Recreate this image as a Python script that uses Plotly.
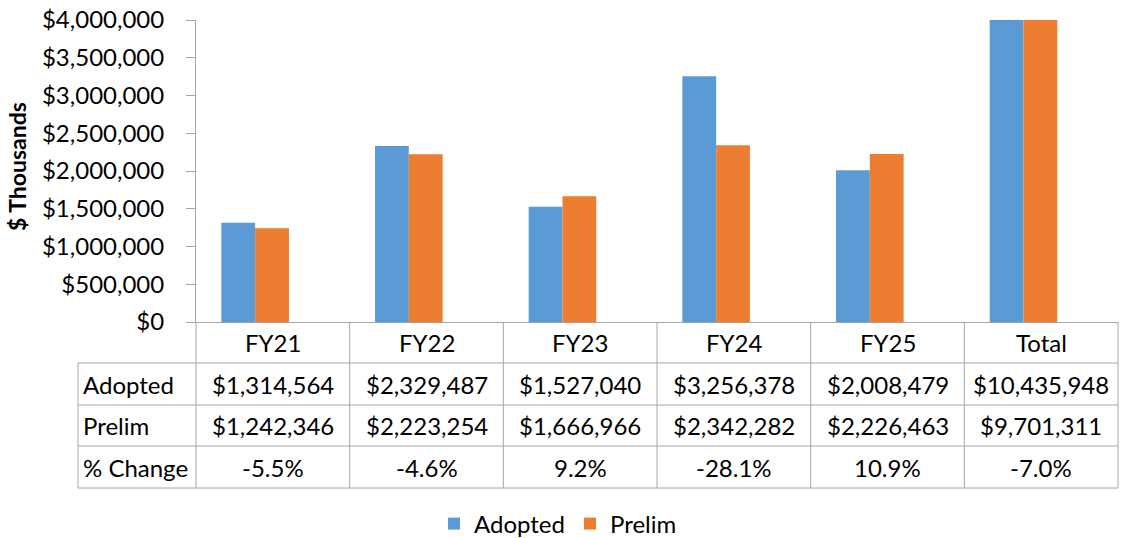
import plotly.graph_objects as go

categories = ["FY21", "FY22", "FY23", "FY24", "FY25", "Total"]
adopted = [1314564, 2329487, 1527040, 3256378, 2008479, 10435948]
prelim = [1242346, 2223254, 1666966, 2342282, 2226463, 9701311]
pct_change = ["-5.5%", "-4.6%", "9.2%", "-28.1%", "10.9%", "-7.0%"]
row_labels = ["Adopted", "Prelim", "% Change"]
y_ticks = [0, 500000, 1000000, 1500000, 2000000, 2500000, 3000000, 3500000, 4000000]

BLUE = "#5B9BD5"
ORANGE = "#ED7D31"
GRID = "#A6A6A6"
FONT = "Lato"

W, H = 1123, 538
L, R, T, B = 196, 1118, 20, 322


def px(x):
    return (x - L) / (R - L)


def py(y):
    return (B - y) / (B - T)


def money(v):
    return "${:,}".format(v)


fig = go.Figure()
fig.add_trace(go.Bar(x=categories, y=adopted, name="Adopted", marker_color=BLUE,
                     width=0.22, offset=-0.335, marker_line_width=0))
fig.add_trace(go.Bar(x=categories, y=prelim, name="Prelim", marker_color=ORANGE,
                     width=0.22, offset=-0.115, marker_line_width=0))

shapes = []
n = len(categories)
col_w = 1.0 / n
row_y = [363, 405, 446, 488]
for yy in row_y:
    shapes.append(dict(type="line", xref="paper", yref="paper", x0=px(78), x1=1,
                       y0=py(yy), y1=py(yy), line=dict(color=GRID, width=1)))
for i in range(n + 1):
    xx = i * col_w
    shapes.append(dict(type="line", xref="paper", yref="paper", x0=xx, x1=xx,
                       y0=py(B), y1=py(488), line=dict(color=GRID, width=1)))
shapes.append(dict(type="line", xref="paper", yref="paper", x0=px(78), x1=px(78),
                   y0=py(363), y1=py(488), line=dict(color=GRID, width=1)))

annotations = []
fsz = 24
centers_y = [342.5, 384, 425.5, 467]


def cell(x, y, text, xanchor="center"):
    annotations.append(dict(x=x, y=y, xref="paper", yref="paper", text=text,
                            showarrow=False, xanchor=xanchor, yanchor="middle",
                            font=dict(size=fsz, color="black", family=FONT)))


for i, c in enumerate(categories):
    xc = (i + 0.5) * col_w
    cell(xc, py(centers_y[0]), c)
    cell(xc, py(centers_y[1]), money(adopted[i]))
    cell(xc, py(centers_y[2]), money(prelim[i]))
    cell(xc, py(centers_y[3]), pct_change[i])
for j, lab in enumerate(row_labels):
    cell(px(81), py(centers_y[j + 1]), lab, xanchor="left")

annotations.append(dict(x=px(17), y=py(167), xref="paper", yref="paper",
                        text="<b>$ Thousands</b>", showarrow=False, textangle=-90,
                        xanchor="center", yanchor="middle",
                        font=dict(size=23, color="black", family=FONT)))

fig.update_layout(
    width=W, height=H,
    margin=dict(l=L, r=W - R, t=T, b=H - B, pad=0, autoexpand=False),
    plot_bgcolor="white", paper_bgcolor="white",
    barmode="group",
    showlegend=True,
    legend=dict(orientation="h", x=px(434), xanchor="left", y=py(524), yanchor="middle",
                font=dict(size=fsz, color="black", family=FONT), itemwidth=30,
                traceorder="normal"),
    shapes=shapes,
    annotations=annotations,
    font=dict(family=FONT, color="black"),
)
fig.update_xaxes(showticklabels=False, showline=True, linecolor=GRID, linewidth=1,
                 ticks="", showgrid=False, range=[-0.5, n - 0.5], fixedrange=True)
fig.update_yaxes(range=[0, 4000000], tickvals=y_ticks,
                 ticktext=[money(v) for v in y_ticks],
                 showline=True, linecolor=GRID, linewidth=1, ticks="outside",
                 ticklen=9, tickcolor=GRID, showgrid=False, zeroline=False,
                 tickfont=dict(size=fsz, color="black", family=FONT),
                 ticklabelstandoff=17, automargin=False)

fig.write_html("out.html",
               config={"displayModeBar": False},
               post_script="document.body.style.margin='0px';"
                           "document.body.style.overflow='hidden';")
